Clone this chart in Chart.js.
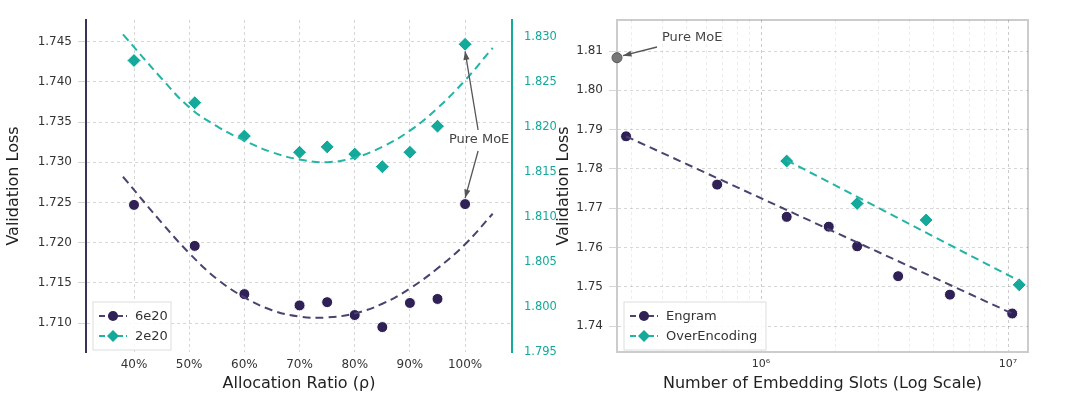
<!DOCTYPE html>
<html lang="en">
<head>
<meta charset="UTF-8">
<title>Engram allocation</title>
<style>
  body { margin:0; background:#fff; }
  #wrap { position:relative; width:1080px; height:413px; }
  canvas { position:absolute; top:0; }
  #left { left:0; }
  #right { left:540px; }
</style>
</head>
<body>
<div id="wrap">
  <canvas id="left" width="575" height="413"></canvas>
  <canvas id="right" width="540" height="413"></canvas>
</div>
<script src="https://cdn.jsdelivr.net/npm/chart.js"></script>
<script>
// ---- left panel data ----
const ratios = [40, 51, 60, 70, 75, 80, 85, 90, 95, 100];
const loss6e20 = [1.7247, 1.7196, 1.7136, 1.7122, 1.7126, 1.7110, 1.7095, 1.7125, 1.7130, 1.7248];
const loss2e20 = [1.8274, 1.8227, 1.8190, 1.8172, 1.8178, 1.8170, 1.8156, 1.8172, 1.8201, 1.8292];
const fitRatios = [38, 45, 50, 55, 60, 65, 70, 75, 80, 85, 90, 95, 100, 105];
const fit6e20 = [1.7282, 1.7225, 1.7187, 1.7155, 1.7132, 1.7116, 1.7108, 1.7107, 1.7112, 1.7124, 1.7143, 1.7168, 1.7198, 1.7236];
const fit2e20 = [1.8303, 1.8254, 1.8222, 1.8201, 1.8185, 1.8172, 1.8164, 1.8161, 1.8166, 1.8178, 1.8196, 1.8221, 1.8252, 1.8288];

// ---- right panel data ----
const engramSlots = [2.84e5, 6.64e5, 1.27e6, 1.88e6, 2.45e6, 3.59e6, 5.82e6, 1.04e7];
const engramLoss = [1.7883, 1.7760, 1.7678, 1.7653, 1.7603, 1.7527, 1.7480, 1.7432];
const engramFit = [[2.84e5, 1.7883], [1.04e7, 1.7432]];
const overSlots = [1.27e6, 2.45e6, 4.66e6, 1.11e7];
const overLoss = [1.7820, 1.7712, 1.7670, 1.7505];
const overFit = [[1.27e6, 1.7822], [1.11e7, 1.7515]];
const pureMoE = [2.61e5, 1.8083];

const PURPLE = '#2f2155';
const PURPLE_LINE = '#4a4370';
const TEAL = '#14a99a';
const TEAL_LINE = '#22b5a6';
const GRID = 'rgba(0,0,0,0.16)';
const FONT = 'DejaVu Sans';

Chart.defaults.font.family = FONT;
Chart.defaults.animation = false;

const xy = (xs, ys) => xs.map((x, i) => ({x, y: ys[i]}));

function arrow(ctx, x1, y1, x2, y2) {
  ctx.save();
  ctx.strokeStyle = '#555'; ctx.fillStyle = '#555'; ctx.lineWidth = 1.3;
  ctx.beginPath(); ctx.moveTo(x1, y1); ctx.lineTo(x2, y2); ctx.stroke();
  const a = Math.atan2(y2 - y1, x2 - x1), L = 9;
  ctx.beginPath();
  ctx.moveTo(x2, y2);
  ctx.lineTo(x2 - L * Math.cos(a - 0.35), y2 - L * Math.sin(a - 0.35));
  ctx.lineTo(x2 - L * Math.cos(a + 0.35), y2 - L * Math.sin(a + 0.35));
  ctx.closePath(); ctx.fill();
  ctx.restore();
}

function legendBox(ctx, x, y, w, items) {
  ctx.save();
  ctx.fillStyle = 'rgba(255,255,255,0.85)';
  ctx.strokeStyle = '#ddd';
  ctx.fillRect(x, y, w, 20 * items.length + 8);
  ctx.strokeRect(x, y, w, 20 * items.length + 8);
  items.forEach((it, i) => {
    const cy = y + 14 + i * 20;
    ctx.strokeStyle = it.line; ctx.lineWidth = 2; ctx.setLineDash([6, 3]);
    ctx.beginPath(); ctx.moveTo(x + 6, cy); ctx.lineTo(x + 34, cy); ctx.stroke();
    ctx.setLineDash([]);
    ctx.fillStyle = it.color;
    ctx.beginPath();
    if (it.diamond) { ctx.moveTo(x + 20, cy - 6); ctx.lineTo(x + 26, cy); ctx.lineTo(x + 20, cy + 6); ctx.lineTo(x + 14, cy); }
    else ctx.arc(x + 20, cy, 5, 0, Math.PI * 2);
    ctx.fill();
    ctx.fillStyle = '#333'; ctx.font = '13px ' + FONT; ctx.textBaseline = 'middle';
    ctx.fillText(it.label, x + 42, cy + 1);
  });
  ctx.restore();
}

const fitWidth = (w) => (scale) => { scale.width = w; };

// ---------------- left chart ----------------
new Chart(document.getElementById('left'), {
  type: 'scatter',
  data: {
    datasets: [
      { data: xy(fitRatios, fit6e20), showLine: true, borderColor: PURPLE_LINE, borderWidth: 2, borderDash: [8, 5], pointRadius: 0, tension: 0.4, yAxisID: 'y' },
      { data: xy(fitRatios, fit2e20), showLine: true, borderColor: TEAL_LINE, borderWidth: 2, borderDash: [8, 5], pointRadius: 0, tension: 0.4, yAxisID: 'y2' },
      { data: xy(ratios, loss6e20), backgroundColor: PURPLE, borderColor: '#fff', borderWidth: 1, pointRadius: 5.5, yAxisID: 'y' },
      { data: xy(ratios, loss2e20), backgroundColor: TEAL, borderColor: '#fff', borderWidth: 1, pointStyle: 'rectRot', pointRadius: 7, yAxisID: 'y2' }
    ]
  },
  options: {
    responsive: false,
    layout: { padding: { top: 20, right: 0, left: 0, bottom: 18 } },
    plugins: { legend: { display: false }, tooltip: { enabled: false } },
    scales: {
      x: {
        type: 'linear', min: 31.3, max: 108.5,
        afterBuildTicks: s => { s.ticks = [40, 50, 60, 70, 80, 90, 100].map(v => ({value: v})); },
        ticks: { callback: v => v + '%', color: '#333', font: { size: 12 }, maxRotation: 0, padding: 6 },
        grid: { color: GRID, drawTicks: false },
        border: { display: false, dash: [3, 3] },
        title: { display: true, text: 'Allocation Ratio (\u03c1)', color: '#222', font: { size: 16 }, padding: 2 },
        afterFit: s => { s.height = 43; }
      },
      y: {
        min: 1.7064, max: 1.7477,
        afterBuildTicks: s => { s.ticks = [1.710, 1.715, 1.720, 1.725, 1.730, 1.735, 1.740, 1.745].map(v => ({value: v})); },
        ticks: { callback: v => v.toFixed(3), color: '#333', font: { size: 12 }, padding: 6 },
        grid: { color: GRID },
        border: { color: '#3a3358', width: 2, dash: [3, 3] },
        title: { display: true, text: 'Validation Loss', color: '#222', font: { size: 16 } },
        afterFit: fitWidth(86)
      },
      y2: {
        position: 'right', min: 1.795, max: 1.8319,
        afterBuildTicks: s => { s.ticks = [1.795, 1.800, 1.805, 1.810, 1.815, 1.820, 1.825, 1.830].map(v => ({value: v})); },
        ticks: { callback: v => v.toFixed(3), color: TEAL, font: { size: 11.5 }, padding: 4 },
        grid: { display: false },
        border: { color: TEAL, width: 2 },
        afterFit: fitWidth(63)
      }
    }
  },
  plugins: [{
    id: 'annot',
    afterDatasetsDraw(chart) {
      const {ctx, scales} = chart;
      const x = scales.x.getPixelForValue(100);
      ctx.save();
      ctx.font = '13px ' + FONT; ctx.fillStyle = '#444'; ctx.textAlign = 'center'; ctx.textBaseline = 'middle';
      ctx.fillText('Pure MoE', x + 14, 140);
      ctx.restore();
      arrow(ctx, x + 13, 130, scales.x.getPixelForValue(100), scales.y2.getPixelForValue(1.8292) + 7);
      arrow(ctx, x + 13, 151, scales.x.getPixelForValue(100), scales.y.getPixelForValue(1.7248) - 6);
      legendBox(ctx, 93, 302, 78, [
        { label: '6e20', line: PURPLE_LINE, color: PURPLE },
        { label: '2e20', line: TEAL_LINE, color: TEAL, diamond: true }
      ]);
    }
  }]
});

// ---------------- right chart ----------------
const logTicks = [];
for (let e = 5; e <= 7; e++) for (let m = 1; m <= 9; m++) { const v = m * Math.pow(10, e); if (v >= 3e5 && v <= 1.2e7) logTicks.push(v); }

new Chart(document.getElementById('right'), {
  type: 'scatter',
  data: {
    datasets: [
      { data: engramFit.map(p => ({x: p[0], y: p[1]})), showLine: true, borderColor: PURPLE_LINE, borderWidth: 2, borderDash: [8, 5], pointRadius: 0 },
      { data: overFit.map(p => ({x: p[0], y: p[1]})), showLine: true, borderColor: TEAL_LINE, borderWidth: 2, borderDash: [8, 5], pointRadius: 0 },
      { data: xy(engramSlots, engramLoss), backgroundColor: PURPLE, borderColor: '#fff', borderWidth: 1, pointRadius: 5.5 },
      { data: xy(overSlots, overLoss), backgroundColor: TEAL, borderColor: '#fff', borderWidth: 1, pointStyle: 'rectRot', pointRadius: 7 },
      { data: [{x: pureMoE[0], y: pureMoE[1]}], backgroundColor: '#777', borderColor: '#555', borderWidth: 1, pointRadius: 5, clip: false }
    ]
  },
  options: {
    responsive: false,
    layout: { padding: { top: 20, right: 52, left: 0, bottom: 18 } },
    plugins: { legend: { display: false }, tooltip: { enabled: false } },
    scales: {
      x: {
        type: 'logarithmic', min: 2.61e5, max: 1.205e7,
        afterBuildTicks: s => { s.ticks = logTicks.map(v => ({value: v, major: v === 1e6 || v === 1e7})); },
        ticks: {
          autoSkip: false, maxRotation: 0, color: '#333', font: { size: 11 }, padding: 6,
          callback: v => v === 1e6 ? '10\u2076' : (v === 1e7 ? '10\u2077' : '')
        },
        grid: {
          drawTicks: false,
          color: c => (c.tick && (c.tick.value === 1e6 || c.tick.value === 1e7)) ? 'rgba(0,0,0,0.2)' : 'rgba(0,0,0,0.07)'
        },
        border: { color: '#ccc', width: 2, dash: [3, 3] },
        title: { display: true, text: 'Number of Embedding Slots (Log Scale)', color: '#222', font: { size: 16 }, padding: 2 },
        afterFit: s => { s.height = 43; }
      },
      y: {
        min: 1.7334, max: 1.8179,
        afterBuildTicks: s => { s.ticks = [1.74, 1.75, 1.76, 1.77, 1.78, 1.79, 1.80, 1.81].map(v => ({value: v})); },
        ticks: { callback: v => v.toFixed(2), color: '#333', font: { size: 12 }, padding: 6 },
        grid: { color: GRID },
        border: { color: '#ccc', width: 2, dash: [3, 3] },
        title: { display: true, text: 'Validation Loss', color: '#222', font: { size: 16 }, padding: { top: 14, bottom: 0 } },
        afterFit: fitWidth(77)
      }
    }
  },
  plugins: [{
    id: 'annot2',
    beforeDraw(chart) {
      const {ctx, chartArea: a} = chart;
      ctx.save(); ctx.strokeStyle = '#ccc'; ctx.lineWidth = 2;
      ctx.beginPath(); ctx.moveTo(a.left, a.top); ctx.lineTo(a.right, a.top); ctx.lineTo(a.right, a.bottom); ctx.lineTo(a.left, a.bottom); ctx.lineTo(a.left, a.top); ctx.stroke();
      ctx.restore();
    },
    afterDatasetsDraw(chart) {
      const {ctx, scales} = chart;
      const px = scales.x.getPixelForValue(pureMoE[0]), py = scales.y.getPixelForValue(pureMoE[1]);
      ctx.save();
      ctx.font = '13px ' + FONT; ctx.fillStyle = '#444'; ctx.textBaseline = 'middle';
      ctx.fillText('Pure MoE', 122, 38);
      ctx.restore();
      arrow(ctx, 117, 47, px + 6, py - 2);
      legendBox(ctx, 84, 302, 142, [
        { label: 'Engram', line: PURPLE_LINE, color: PURPLE },
        { label: 'OverEncoding', line: TEAL_LINE, color: TEAL, diamond: true }
      ]);
    }
  }]
});
</script>
</body>
</html>
